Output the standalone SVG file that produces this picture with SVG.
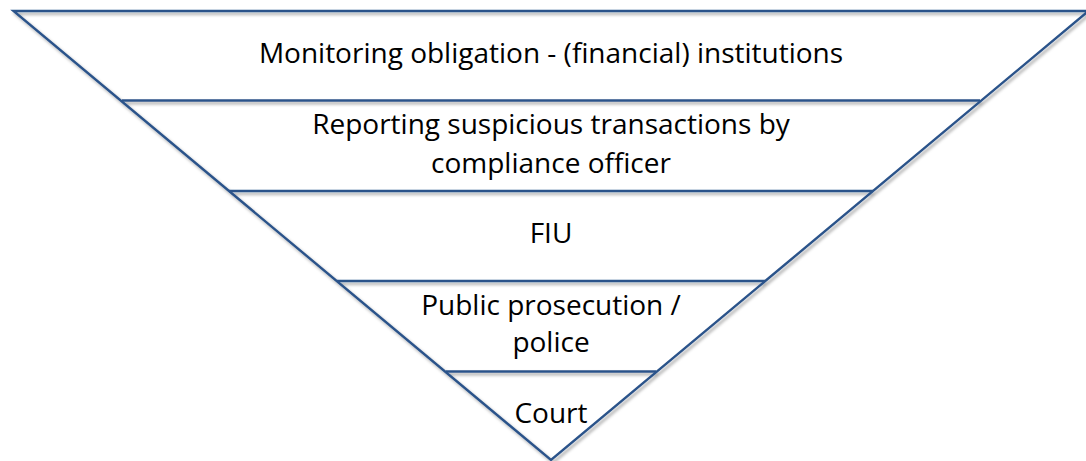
<svg xmlns="http://www.w3.org/2000/svg" width="1086" height="461" viewBox="0 0 1086 461">
  <defs>
    <filter id="shade" x="-5%" y="-5%" width="110%" height="110%">
      <feDropShadow dx="2" dy="2.5" stdDeviation="1.6" flood-color="#000" flood-opacity="0.35"/>
    </filter>
    <style>
      .edge { fill: none; stroke: #2B538A; stroke-width: 2.4; stroke-linejoin: miter; }
      .lbl { font-family: "Open Sans", Lato, "Liberation Sans", sans-serif; font-size: 28px; fill: #000; text-anchor: middle; }
    </style>
  </defs>
  <rect width="1086" height="461" fill="#fff"/>

  <!-- outer funnel and tier dividers -->
  <g id="connectors" filter="url(#shade)">
    <polygon class="edge" points="13.5,11 1088.5,11 551,460"/>
    <line class="edge" x1="122" y1="100.5" x2="980" y2="100.5"/>
    <line class="edge" x1="229" y1="191" x2="873" y2="191"/>
    <line class="edge" x1="337" y1="281" x2="765" y2="281"/>
    <line class="edge" x1="446" y1="371.5" x2="656" y2="371.5"/>
  </g>

  <g id="tier-monitoring">
    <text class="lbl" x="551" y="63">Monitoring obligation - (financial) institutions</text>
  </g>
  <g id="tier-reporting">
    <text class="lbl" x="551" y="134">Reporting suspicious transactions by</text>
    <text class="lbl" x="551" y="173">compliance officer</text>
  </g>
  <g id="tier-fiu">
    <text class="lbl" x="551" y="243">FIU</text>
  </g>
  <g id="tier-prosecution">
    <text class="lbl" x="551" y="315">Public prosecution /</text>
    <text class="lbl" x="551" y="352">police</text>
  </g>
  <g id="tier-court">
    <text class="lbl" x="551" y="423">Court</text>
  </g>
</svg>
